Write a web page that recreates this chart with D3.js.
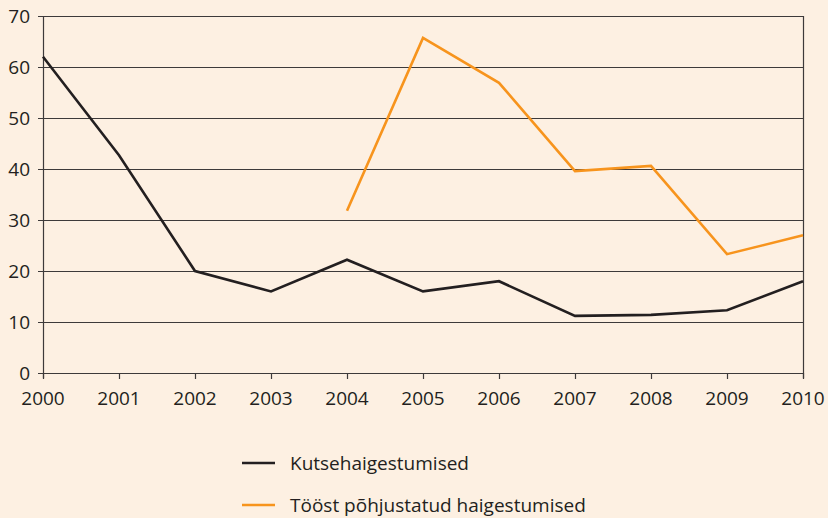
<!DOCTYPE html>
<html lang="et">
	<head>
		<meta charset="utf-8">
		<title>Kutsehaigestumised</title>
		<script type="text/javascript" src="https://cdn.jsdelivr.net/npm/d3@7"></script>
		<style>
			body { margin: 0; background: #fdf0e2; }
			svg { display: block; }
		</style>
	</head>
	<body>
		<script type="text/javascript">

			//
			// Data
			//

			var years = [2000, 2001, 2002, 2003, 2004, 2005, 2006, 2007, 2008, 2009, 2010];
			var kutse = [62, 42.7, 20, 16, 22.2, 16, 18, 11.2, 11.4, 12.3, 18];
			var toost = [null, null, null, null, 31.8, 65.7, 56.9, 39.6, 40.6, 23.3, 27];
			var yTicks = [0, 10, 20, 30, 40, 50, 60, 70];
			var seriesNames = ["Kutsehaigestumised", "Tööst põhjustatud haigestumised"];
			var seriesColors = ["#231f20", "#f7941d"];

			//
			// Chart
			//

			var width = 828, height = 518;
			var mLeft = 43, mRight = 803, mTop = 16, mBottom = 373;
			var font = "'Open Sans', sans-serif";
			var fontSize = 19;

			var svg = d3.select("body")
				.append("svg")
				.attr("width", width)
				.attr("height", height);

			svg.append("rect")
				.attr("width", width)
				.attr("height", height)
				.attr("fill", "#fdf0e2");

			var x = d3.scaleLinear().domain([2000, 2010]).range([mLeft, mRight]);
			var y = d3.scaleLinear().domain([0, 70]).range([mBottom, mTop]);

			// gridlines
			svg.append("g")
				.selectAll("line")
				.data(yTicks)
				.enter()
				.append("line")
				.attr("x1", mLeft - 5)
				.attr("x2", mRight)
				.attr("y1", function(d) { return y(d) + 0.5; })
				.attr("y2", function(d) { return y(d) + 0.5; })
				.attr("stroke", "#3d3a3a")
				.attr("stroke-width", 1.2);

			// left and right vertical lines
			[mLeft, mRight].forEach(function(px) {
				svg.append("line")
					.attr("x1", px + 0.5).attr("x2", px + 0.5)
					.attr("y1", mTop).attr("y2", mBottom + 5)
					.attr("stroke", "#3d3a3a")
					.attr("stroke-width", 1.2);
			});

			// x ticks
			svg.append("g")
				.selectAll("line")
				.data(years)
				.enter()
				.append("line")
				.attr("x1", function(d) { return Math.round(x(d)) + 0.5; })
				.attr("x2", function(d) { return Math.round(x(d)) + 0.5; })
				.attr("y1", mBottom)
				.attr("y2", mBottom + 6)
				.attr("stroke", "#3d3a3a")
				.attr("stroke-width", 1.2);

			// y labels
			svg.append("g")
				.selectAll("text")
				.data(yTicks)
				.enter()
				.append("text")
				.attr("x", 30)
				.attr("y", function(d) { return y(d); })
				.attr("dy", "0.36em")
				.attr("text-anchor", "end")
				.attr("font-family", font)
				.attr("font-size", fontSize)
				.attr("fill", "#231f20")
				.text(function(d) { return d; });

			// x labels
			svg.append("g")
				.selectAll("text")
				.data(years)
				.enter()
				.append("text")
				.attr("x", function(d) { return x(d); })
				.attr("y", 405)
				.attr("text-anchor", "middle")
				.attr("font-family", font)
				.attr("font-size", fontSize)
				.attr("fill", "#231f20")
				.text(function(d) { return d; });

			// lines
			var line = d3.line()
				.defined(function(d) { return d.v != null; })
				.x(function(d) { return x(d.year); })
				.y(function(d) { return y(d.v); });

			[kutse, toost].forEach(function(values, i) {
				var pts = years.map(function(yr, j) { return { year: yr, v: values[j] }; });
				svg.append("path")
					.datum(pts)
					.attr("d", line)
					.attr("fill", "none")
					.attr("stroke", seriesColors[i])
					.attr("stroke-width", 2.6)
					.attr("stroke-linejoin", "miter");
			});

			// legend
			var legend = svg.append("g")
				.selectAll("g")
				.data(seriesNames)
				.enter()
				.append("g")
				.attr("transform", function(d, i) { return "translate(242," + (463 + i * 42) + ")"; });

			legend.append("line")
				.attr("x1", 0).attr("x2", 33)
				.attr("stroke", function(d, i) { return seriesColors[i]; })
				.attr("stroke-width", 2.6);

			legend.append("text")
				.attr("x", 48)
				.attr("dy", "0.36em")
				.attr("font-family", font)
				.attr("font-size", fontSize)
				.attr("fill", "#231f20")
				.text(function(d) { return d; });

		</script>
	</body>
</html>
